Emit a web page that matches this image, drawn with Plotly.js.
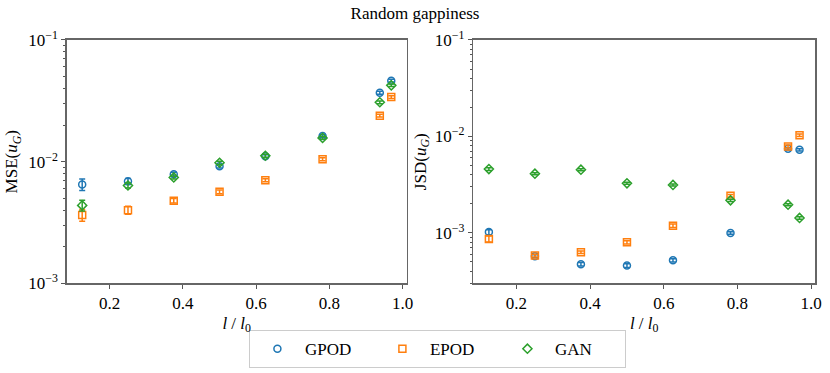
<!DOCTYPE html>
<html>
<head>
<meta charset="utf-8">
<script src="https://cdn.plot.ly/plotly-3.0.1.min.js"></script>
<style>
  html, body { margin: 0; padding: 0; background: #fff; }
  #chart { width: 830px; height: 373px; }
</style>
</head>
<body>
<div id="chart"></div>
<script>
const gapRatio = [0.125, 0.25, 0.375, 0.5, 0.625, 0.78125, 0.9375, 0.96875];

// MSE(u_G)
const mseGPOD = [6.5e-3, 6.9e-3, 7.9e-3, 9.2e-3, 1.11e-2, 1.63e-2, 3.69e-2, 4.63e-2];
const mseGPODErr = [7e-4, 4e-4, 3e-4, 3e-4, 3e-4, 4e-4, 1e-3, 1.2e-3];
const mseEPOD = [3.65e-3, 4.0e-3, 4.79e-3, 5.67e-3, 7.06e-3, 1.05e-2, 2.39e-2, 3.40e-2];
const mseEPODErr = [4e-4, 3e-4, 2e-4, 2e-4, 2e-4, 3e-4, 6e-4, 9e-4];
const mseGAN = [4.38e-3, 6.38e-3, 7.43e-3, 9.81e-3, 1.12e-2, 1.57e-2, 3.08e-2, 4.24e-2];
const mseGANErr = [4.5e-4, 3e-4, 2e-4, 3e-4, 3e-4, 4e-4, 8e-4, 1e-3];

// JSD(u_G)
const jsdGPOD = [1.02e-3, 5.74e-4, 4.74e-4, 4.59e-4, 5.21e-4, 1.0e-3, 7.45e-3, 7.28e-3];
const jsdGPODErr = [6e-5, 2e-5, 2e-5, 2e-5, 2e-5, 3e-5, 2e-4, 2e-4];
const jsdEPOD = [8.67e-4, 5.83e-4, 6.31e-4, 8.0e-4, 1.19e-3, 2.43e-3, 7.88e-3, 1.03e-2];
const jsdEPODErr = [6e-5, 2e-5, 2e-5, 3e-5, 5e-5, 8e-5, 3e-4, 3e-4];
const jsdGAN = [4.59e-3, 4.11e-3, 4.52e-3, 3.27e-3, 3.14e-3, 2.18e-3, 1.96e-3, 1.43e-3];
const jsdGANErr = [1.5e-4, 1e-4, 1e-4, 8e-5, 8e-5, 6e-5, 5e-5, 4e-5];

const methods = ["GPOD", "EPOD", "GAN"];
const colors = ["#1f77b4", "#ff7f0e", "#2ca02c"];
const symbols = ["circle-open", "square-open", "diamond-open"];

const yTickVals = [1e-3, 1e-2, 1e-1];
const yTickText = ["10<sup>\u22123</sup>", "10<sup>\u22122</sup>", "10<sup>\u22121</sup>"];

const serif = "Liberation Serif";

function series(y, err, i, xa, ya, showLegend) {
  return {
    type: "scatter", mode: "markers", name: methods[i],
    x: gapRatio, y: y, xaxis: xa, yaxis: ya, showlegend: showLegend,
    error_y: { type: "data", array: err, visible: true, color: colors[i], thickness: 1.5, width: 3 },
    marker: { symbol: symbols[i], size: 7, color: colors[i], line: { width: 1.5, color: colors[i] } }
  };
}

const traces = [
  series(mseGPOD, mseGPODErr, 0, "x", "y", true),
  series(mseEPOD, mseEPODErr, 1, "x", "y", true),
  series(mseGAN, mseGANErr, 2, "x", "y", true),
  series(jsdGPOD, jsdGPODErr, 0, "x2", "y2", false),
  series(jsdEPOD, jsdEPODErr, 1, "x2", "y2", false),
  series(jsdGAN, jsdGANErr, 2, "x2", "y2", false)
];

const minorLog = [];
for (let e = -4; e < -1; e++) for (let d = 2; d <= 9; d++) minorLog.push(d * Math.pow(10, e));

const tickFont = { family: serif, size: 17, color: "#000" };
const titleFont = { family: serif, size: 17, color: "#000" };

const xBase = {
  range: [0.0828, 1.0109], tickvals: [0.2, 0.4, 0.6, 0.8, 1.0], ticktext: ["0.2", "0.4", "0.6", "0.8", "1.0"],
  tickfont: tickFont,
  ticks: "outside", ticklen: 4, tickcolor: "#555", showline: true, linecolor: "#666", linewidth: 1.5,
  mirror: true, showgrid: false, zeroline: false,
  title: { text: "<i>l</i> / <i>l</i><sub>0</sub>", standoff: 4, font: titleFont }
};
const yBase = {
  type: "log", tickvals: yTickVals, ticktext: yTickText, tickfont: tickFont,
  ticks: "outside", ticklen: 4, tickcolor: "#555", showline: true, linecolor: "#666", linewidth: 1.5,
  mirror: true, showgrid: false, zeroline: false,
  minor: { tickmode: "array", tickvals: minorLog, ticks: "outside", ticklen: 2, tickcolor: "#555", showgrid: false }
};

const layout = {
  width: 830, height: 373,
  margin: { l: 0, r: 0, t: 0, b: 0 },
  paper_bgcolor: "#fff", plot_bgcolor: "#fff",
  font: { family: serif, size: 16, color: "#000" },
  title: { text: "Random gappiness", x: 0.5, xanchor: "center", y: 0.965, yanchor: "middle", font: { family: serif, size: 17, color: "#000" } },
  xaxis: { ...xBase, domain: [0.0804, 0.49], anchor: "y" },
  yaxis: { ...yBase, domain: [0.24, 0.8928], range: [-3, -1], anchor: "x",
    title: { text: "MSE(<i>u</i><sub><i>G</i></sub>)", standoff: 6, font: titleFont } },
  xaxis2: { ...xBase, domain: [0.5703, 0.982], anchor: "y2" },
  yaxis2: { ...yBase, domain: [0.24, 0.8928], range: [-3.524, -1], anchor: "x2",
    title: { text: "JSD(<i>u</i><sub><i>G</i></sub>)", standoff: 4, font: titleFont } },
  legend: {
    orientation: "h", x: 0.527, xanchor: "center", y: 0.064, yanchor: "middle",
    bordercolor: "#ccc", borderwidth: 1, bgcolor: "#fff",
    itemwidth: 45, entrywidth: 65, entrywidthmode: "pixels",
    font: { family: serif, size: 17, color: "#000" }
  }
};

Plotly.newPlot("chart", traces, layout, { displayModeBar: false, staticPlot: true });
</script>
</body>
</html>
